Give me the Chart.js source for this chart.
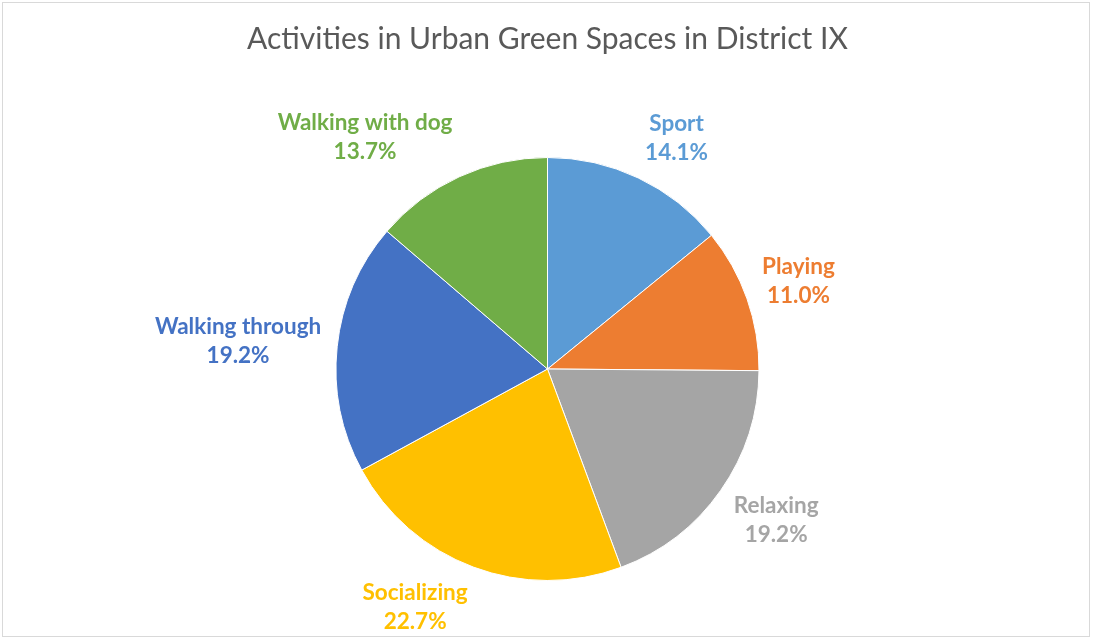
<!DOCTYPE html>
<html>
<head>
<meta charset="utf-8">
<title>Activities in Urban Green Spaces in District IX</title>
<script src="https://cdn.jsdelivr.net/npm/chart.js@4.4.1/dist/chart.umd.min.js"></script>
<style>
  html, body { margin: 0; padding: 0; background: #ffffff; }
  #wrap { width: 1093px; height: 639px; position: relative; }
  canvas { display: block; }
</style>
</head>
<body>
<div id="wrap"><canvas id="chart" width="1093" height="639"></canvas></div>
<script>
// Share of respondents by activity (percent)
const categories = ['Sport', 'Playing', 'Relaxing', 'Socializing', 'Walking through', 'Walking with dog'];
const shares = [14.1, 11.0, 19.2, 22.7, 19.2, 13.7];
const chartTitle = 'Activities in Urban Green Spaces in District IX';

// Office-style palette
const palette = ['#5B9BD5', '#ED7D31', '#A5A5A5', '#FFC000', '#4472C4', '#70AD47'];

const labelFont = 'bold 22.5px Lato, "Open Sans", sans-serif';
const labelLineGap = 29;
const labelGap = 16;

// Frame around the whole chart
const framePlugin = {
  id: 'frame',
  beforeDraw(chart) {
    const ctx = chart.ctx;
    ctx.save();
    ctx.fillStyle = '#ffffff';
    ctx.fillRect(0, 0, chart.width, chart.height);
    ctx.strokeStyle = '#d9d9d9';
    ctx.lineWidth = 1;
    ctx.strokeRect(2.5, 2.5, chart.width - 6, chart.height - 5);
    ctx.restore();
  }
};

// Category name and percentage placed outside each slice
const outsideLabels = {
  id: 'outsideLabels',
  afterDatasetsDraw(chart) {
    const ctx = chart.ctx;
    const meta = chart.getDatasetMeta(0);
    ctx.save();
    ctx.font = labelFont;
    ctx.textAlign = 'center';
    ctx.textBaseline = 'middle';
    meta.data.forEach((arc, i) => {
      const p = arc.getProps(['x', 'y', 'startAngle', 'endAngle', 'outerRadius'], true);
      const mid = (p.startAngle + p.endAngle) / 2;
      const ux = Math.cos(mid), uy = Math.sin(mid);
      const ax = p.x + (p.outerRadius + labelGap) * ux;
      const ay = p.y + (p.outerRadius + labelGap) * uy;
      const line1 = categories[i];
      const line2 = shares[i].toFixed(1) + '%';
      const w = Math.max(ctx.measureText(line1).width, ctx.measureText(line2).width);
      const h = labelLineGap + 21;
      const kx = Math.max(-1, Math.min(1, ux / 0.3));
      const ky = Math.max(-1, Math.min(1, uy / 0.7));
      const cx = ax + kx * w / 2;
      const cy = ay + ky * h / 2;
      ctx.fillStyle = palette[i];
      ctx.fillText(line1, cx, cy - labelLineGap / 2);
      ctx.fillText(line2, cx, cy + labelLineGap / 2);
    });
    ctx.restore();
  }
};

new Chart(document.getElementById('chart'), {
  type: 'pie',
  data: {
    labels: categories,
    datasets: [{
      data: shares,
      backgroundColor: palette,
      borderColor: '#ffffff',
      borderWidth: 1
    }]
  },
  options: {
    responsive: false,
    animation: false,
    layout: { padding: { left: 2, right: 0, top: 0, bottom: 58 } },
    plugins: {
      legend: { display: false },
      tooltip: { enabled: false },
      title: {
        display: true,
        text: chartTitle,
        color: '#595959',
        font: { family: 'Lato, "Open Sans", sans-serif', size: 30, weight: 'normal', lineHeight: 1.2 },
        padding: { top: 21, bottom: 100 }
      }
    }
  },
  plugins: [framePlugin, outsideLabels]
});
</script>
</body>
</html>
